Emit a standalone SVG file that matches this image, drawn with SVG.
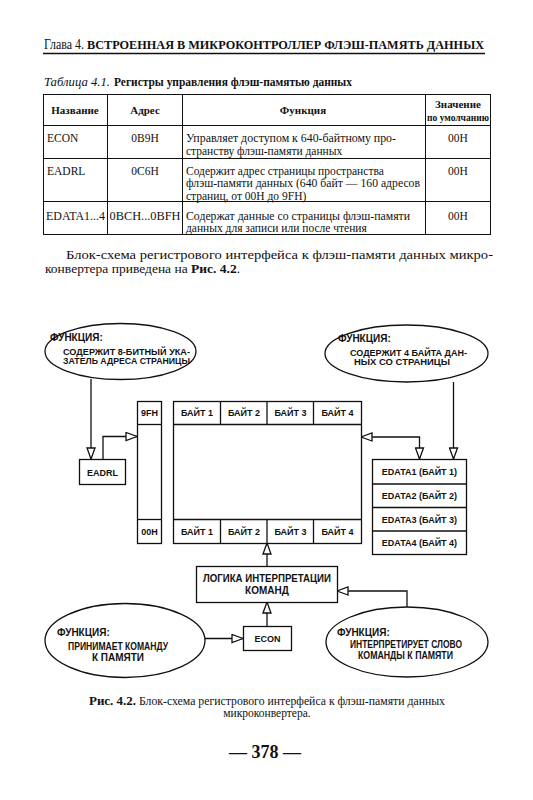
<svg xmlns="http://www.w3.org/2000/svg" width="533" height="800" viewBox="0 0 533 800">
<style>
.serif{font-family:"Liberation Serif","Times New Roman",serif;fill:#111}
.b{font-weight:bold}
.tb{font-family:"Liberation Serif","Times New Roman",serif;font-size:11.5px;fill:#111}
.th{font-family:"Liberation Serif","Times New Roman",serif;font-size:11px;font-weight:bold;fill:#111}
.tl{stroke:#111;stroke-width:1;fill:none}
.box{fill:#fff;stroke:#111;stroke-width:1.3}
.ell{fill:#fff;stroke:#111;stroke-width:1.3}
.lbl{font-family:"Liberation Sans",Arial,sans-serif;font-size:9px;font-weight:bold;fill:#111}
.el{font-family:"Liberation Sans",Arial,sans-serif;font-size:9px;font-weight:bold;fill:#111}
.eh{font-family:"Liberation Sans",Arial,sans-serif;font-size:10px;font-weight:bold;fill:#111}
.c{text-anchor:middle}
.con{stroke:#111;stroke-width:1.3;fill:none}
</style>
<defs>
<marker id="ah" markerUnits="userSpaceOnUse" markerWidth="13" markerHeight="10" viewBox="0 0 13 10" refX="12" refY="5" orient="auto-start-reverse">
<path d="M1,1 L12,5 L1,9 Z" fill="#fff" stroke="#111" stroke-width="1.3"/>
</marker>
</defs>
<rect width="533" height="800" fill="#fff"/>

<!-- page header -->
<g id="header">
<text class="serif" x="44" y="49" font-size="14" textLength="40" lengthAdjust="spacingAndGlyphs">Глава 4.</text>
<text class="serif b" x="87" y="49" font-size="13.5" textLength="397" lengthAdjust="spacingAndGlyphs">ВСТРОЕННАЯ В МИКРОКОНТРОЛЛЕР ФЛЭШ-ПАМЯТЬ ДАННЫХ</text>
<line x1="43" y1="53.5" x2="485" y2="53.5" stroke="#111" stroke-width="1.3"/>
</g>

<!-- table -->
<g id="table">
<text class="serif" x="44" y="86" font-size="12.5" font-style="italic" textLength="66" lengthAdjust="spacingAndGlyphs">Таблица 4.1.</text>
<text class="serif b" x="114" y="86" font-size="12.5" textLength="238" lengthAdjust="spacingAndGlyphs">Регистры управления флэш-памятью данных</text>
<rect class="tl" x="43.5" y="94.5" width="447" height="140" stroke-width="1.2"/>
<line class="tl" x1="107.5" y1="94.5" x2="107.5" y2="234.5"/>
<line class="tl" x1="182.5" y1="94.5" x2="182.5" y2="234.5"/>
<line class="tl" x1="425.5" y1="94.5" x2="425.5" y2="234.5"/>
<line class="tl" x1="43.5" y1="125.5" x2="490.5" y2="125.5"/>
<line class="tl" x1="43.5" y1="158.5" x2="490.5" y2="158.5"/>
<line class="tl" x1="43.5" y1="201.5" x2="490.5" y2="201.5"/>
<text class="th c" x="75" y="114">Название</text>
<text class="th c" x="145" y="114">Адрес</text>
<text class="th c" x="303" y="114">Функция</text>
<text class="th c" x="458" y="108">Значение</text>
<text class="th c" x="458" y="121" textLength="62" lengthAdjust="spacingAndGlyphs">по умолчанию</text>

<text class="tb" x="47" y="142">ECON</text>
<text class="tb c" x="145" y="142">0B9H</text>
<text class="tb" x="186" y="142" textLength="210" lengthAdjust="spacingAndGlyphs">Управляет доступом к 640-байтному про-</text>
<text class="tb" x="186" y="154.5">странству флэш-памяти данных</text>
<text class="tb c" x="458" y="142">00H</text>

<text class="tb" x="47" y="175">EADRL</text>
<text class="tb c" x="145" y="175">0C6H</text>
<text class="tb" x="186" y="174.5">Содержит адрес страницы пространства</text>
<text class="tb" x="186" y="187" textLength="234" lengthAdjust="spacingAndGlyphs">флэш-памяти данных (640 байт — 160 адресов</text>
<text class="tb" x="186" y="199.5">страниц, от 00H до 9FH)</text>
<text class="tb c" x="458" y="175">00H</text>

<text class="tb" x="46" y="220" textLength="59" lengthAdjust="spacingAndGlyphs">EDATA1...4</text>
<text class="tb" x="109.5" y="220" textLength="71" lengthAdjust="spacingAndGlyphs">0BCH...0BFH</text>
<text class="tb" x="186" y="220" textLength="224" lengthAdjust="spacingAndGlyphs">Содержат данные со страницы флэш-памяти</text>
<text class="tb" x="186" y="232">данных для записи или после чтения</text>
<text class="tb c" x="458" y="220">00H</text>
</g>

<!-- paragraph -->
<g id="paragraph">
<text class="serif" x="66" y="259" font-size="13.5" textLength="427" lengthAdjust="spacingAndGlyphs">Блок-схема регистрового интерфейса к флэш-памяти данных микро-</text>
<text class="serif" x="45" y="273" font-size="13.5">конвертера приведена на <tspan class="b">Рис. 4.2</tspan>.</text>
</g>

<!-- connectors -->
<g id="connectors">
<path class="con" d="M91,379 L91,459" marker-end="url(#ah)"/>
<path class="con" d="M103,459 L103,436.5 L137,436.5" marker-end="url(#ah)"/>
<path class="con" d="M453.5,382 L453.5,459" marker-end="url(#ah)"/>
<path class="con" d="M361,437 L419.5,437 L419.5,459" marker-start="url(#ah)" marker-end="url(#ah)"/>
<path class="con" d="M267,519 L267,424" marker-end="url(#ah)"/>
<path class="con" d="M267,566 L267,543" marker-end="url(#ah)"/>
<path class="con" d="M267,626 L267,602" marker-end="url(#ah)"/>
<path class="con" d="M205,638.5 L243,638.5" marker-end="url(#ah)"/>
<path class="con" d="M407,607 L407,591 L337,591" marker-end="url(#ah)"/>
</g>

<!-- top-left ellipse -->
<g id="func-eadrl">
<ellipse class="ell" cx="120.5" cy="351.5" rx="75.5" ry="28"/>
<text class="eh" x="50" y="341">ФУНКЦИЯ:</text>
<text class="el" x="63" y="354.5" textLength="127" lengthAdjust="spacingAndGlyphs">СОДЕРЖИТ 8-БИТНЫЙ УКА-</text>
<text class="el" x="63" y="364" textLength="127" lengthAdjust="spacingAndGlyphs">ЗАТЕЛЬ АДРЕСА СТРАНИЦЫ</text>
</g>

<!-- top-right ellipse -->
<g id="func-edata">
<ellipse class="ell" cx="406.5" cy="353.5" rx="81.5" ry="28.5"/>
<text class="eh" x="338" y="342">ФУНКЦИЯ:</text>
<text class="el" x="350" y="355.5" textLength="117" lengthAdjust="spacingAndGlyphs">СОДЕРЖИТ 4 БАЙТА ДАН-</text>
<text class="el" x="354" y="365" textLength="96" lengthAdjust="spacingAndGlyphs">НЫХ СО СТРАНИЦЫ</text>
</g>

<!-- EADRL -->
<g id="eadrl">
<rect class="box" x="79.5" y="459.5" width="46" height="25"/>
<text class="lbl c" x="102.5" y="475.5">EADRL</text>
</g>

<!-- address column -->
<g id="addr">
<rect class="box" x="137.5" y="401.5" width="24" height="142"/>
<line class="con" x1="137.5" y1="424.5" x2="161.5" y2="424.5"/>
<line class="con" x1="137.5" y1="519.5" x2="161.5" y2="519.5"/>
<text class="lbl c" x="149.5" y="416">9FH</text>
<text class="lbl c" x="149.5" y="534.5">00H</text>
</g>

<!-- data page grid -->
<g id="page">
<rect class="box" x="173.5" y="401.5" width="188" height="142"/>
<line class="con" x1="173.5" y1="424.5" x2="361.5" y2="424.5"/>
<line class="con" x1="173.5" y1="519.5" x2="361.5" y2="519.5"/>
<line class="con" x1="220.5" y1="401.5" x2="220.5" y2="424.5"/>
<line class="con" x1="267" y1="401.5" x2="267" y2="424.5"/>
<line class="con" x1="313.5" y1="401.5" x2="313.5" y2="424.5"/>
<line class="con" x1="220.5" y1="519.5" x2="220.5" y2="543.5"/>
<line class="con" x1="267" y1="519.5" x2="267" y2="543.5"/>
<line class="con" x1="313.5" y1="519.5" x2="313.5" y2="543.5"/>
<text class="lbl c" x="197" y="416">БАЙТ 1</text>
<text class="lbl c" x="244" y="416">БАЙТ 2</text>
<text class="lbl c" x="290.5" y="416">БАЙТ 3</text>
<text class="lbl c" x="337.5" y="416">БАЙТ 4</text>
<text class="lbl c" x="197" y="534.5">БАЙТ 1</text>
<text class="lbl c" x="244" y="534.5">БАЙТ 2</text>
<text class="lbl c" x="290.5" y="534.5">БАЙТ 3</text>
<text class="lbl c" x="337.5" y="534.5">БАЙТ 4</text>
</g>

<!-- EDATA registers -->
<g id="edata">
<rect class="box" x="372.5" y="459.5" width="94" height="95"/>
<line class="con" x1="372.5" y1="484" x2="466.5" y2="484"/>
<line class="con" x1="372.5" y1="507.5" x2="466.5" y2="507.5"/>
<line class="con" x1="372.5" y1="531" x2="466.5" y2="531"/>
<text class="lbl c" x="419.5" y="475">EDATA1 (БАЙТ 1)</text>
<text class="lbl c" x="419.5" y="499">EDATA2 (БАЙТ 2)</text>
<text class="lbl c" x="419.5" y="522.5">EDATA3 (БАЙТ 3)</text>
<text class="lbl c" x="419.5" y="546">EDATA4 (БАЙТ 4)</text>
</g>

<!-- command logic -->
<g id="logic">
<rect class="box" x="196.5" y="566.5" width="141" height="36"/>
<text class="eh c" x="267" y="582" textLength="128" lengthAdjust="spacingAndGlyphs">ЛОГИКА ИНТЕРПРЕТАЦИИ</text>
<text class="eh c" x="267" y="594">КОМАНД</text>
</g>

<!-- ECON -->
<g id="econ">
<rect class="box" x="243.5" y="626.5" width="48" height="24"/>
<text class="lbl c" x="267.5" y="641.5">ECON</text>
</g>

<!-- bottom-left ellipse -->
<g id="func-econ">
<ellipse class="ell" cx="125" cy="640.5" rx="80" ry="37"/>
<text class="eh" x="57" y="636">ФУНКЦИЯ:</text>
<text class="eh c" x="118" y="650" textLength="100" lengthAdjust="spacingAndGlyphs">ПРИНИМАЕТ КОМАНДУ</text>
<text class="eh c" x="118" y="661">К ПАМЯТИ</text>
</g>

<!-- bottom-right ellipse -->
<g id="func-logic">
<ellipse class="ell" cx="407" cy="642" rx="81" ry="35"/>
<text class="eh" x="337" y="636">ФУНКЦИЯ:</text>
<text class="eh c" x="406" y="648" textLength="112" lengthAdjust="spacingAndGlyphs">ИНТЕРПРЕТИРУЕТ СЛОВО</text>
<text class="eh c" x="405.5" y="658.5" textLength="95" lengthAdjust="spacingAndGlyphs">КОМАНДЫ К ПАМЯТИ</text>
</g>

<!-- caption & page number -->
<g id="caption">
<text class="serif b" x="89" y="705" font-size="11.5" textLength="47" lengthAdjust="spacingAndGlyphs">Рис. 4.2.</text>
<text class="serif" x="139" y="705" font-size="11.5" textLength="306" lengthAdjust="spacingAndGlyphs">Блок-схема регистрового интерфейса к флэш-памяти данных</text>
<text class="serif c" x="267" y="717" font-size="11.5">микроконвертера.</text>
<text class="serif b c" x="265" y="758" font-size="18">— 378 —</text>
</g>
</svg>
